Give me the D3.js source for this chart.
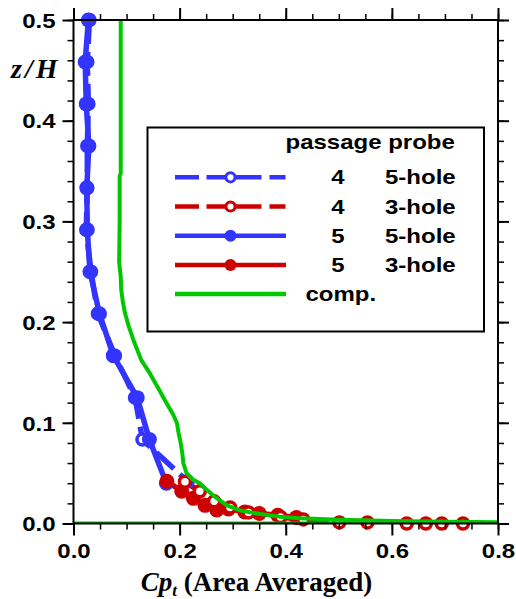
<!DOCTYPE html>
<html>
<head>
<meta charset="utf-8">
<script src="https://cdn.jsdelivr.net/npm/d3@7"></script>
<style>
  html, body { margin: 0; padding: 0; background: #fff; }
  svg { display: block; }
</style>
</head>
<body>
<svg id="chart" width="516" height="599"></svg>
<script>
// ---- tick labels ----
const xTickValues = [0.0, 0.2, 0.4, 0.6, 0.8];
const yTickValues = [0.0, 0.1, 0.2, 0.3, 0.4, 0.5];

// ---- passage 4, 5-hole probe (dashed, open symbols) ----
const p4FiveCp = [0.030, 0.026, 0.028, 0.026, 0.026, 0.024, 0.033, 0.046, 0.078, 0.116, 0.130, 0.215];
const p4FiveZ  = [0.5, 0.4583, 0.4167, 0.375, 0.3333, 0.2917, 0.25, 0.2083, 0.1667, 0.125, 0.0833, 0.0417];

// ---- passage 5, 5-hole probe (solid, filled symbols) ----
const p5FiveCp = [0.028, 0.022, 0.024, 0.029, 0.025, 0.026, 0.031, 0.049, 0.075, 0.120, 0.143, 0.175];
const p5FiveZ  = [0.5, 0.4583, 0.4167, 0.375, 0.3333, 0.2917, 0.25, 0.2083, 0.1667, 0.125, 0.0833, 0.040];

// ---- passage 4, 3-hole probe (dashed, open symbols) ----
const p4ThreeCp = [0.210, 0.238, 0.265, 0.295, 0.330, 0.390, 0.433, 0.501, 0.554, 0.628, 0.664, 0.694, 0.734];
const p4ThreeZ  = [0.0415, 0.032, 0.022, 0.016, 0.011, 0.0065, 0.004, 0.001, 0.001, 0.0, 0.0, 0.0, 0.0];

// ---- passage 5, 3-hole probe (solid, filled symbols) ----
const p5ThreeCp = [0.176, 0.204, 0.226, 0.248, 0.270, 0.292, 0.323, 0.350, 0.385, 0.420];
const p5ThreeZ  = [0.042, 0.032, 0.025, 0.018, 0.0135, 0.0145, 0.0115, 0.0100, 0.0082, 0.0060];

// ---- computation ----
const compCp = [0.089, 0.089, 0.087, 0.087, 0.086, 0.089, 0.090, 0.093, 0.097, 0.104, 0.113, 0.128, 0.144,
                0.160, 0.176, 0.188, 0.195, 0.198, 0.202, 0.205, 0.207, 0.213, 0.224, 0.238, 0.250, 0.263,
                0.276, 0.289, 0.314, 0.352, 0.389, 0.427, 0.500, 0.600, 0.700, 0.800];
const compZ  = [0.5, 0.348, 0.345, 0.30, 0.26, 0.245, 0.232, 0.22, 0.209, 0.196, 0.182, 0.162, 0.149,
                0.134, 0.119, 0.108, 0.0995, 0.09, 0.08, 0.07, 0.06, 0.05, 0.044, 0.04, 0.034, 0.028,
                0.023, 0.018, 0.013, 0.0094, 0.0068, 0.0052, 0.0038, 0.0026, 0.0018, 0.0012];
const compWallCp = [0.0, 0.8];
const compWallZ  = [0.0, 0.0];

// ---- legend rows ----
const legendPassage = ["4", "4", "5", "5"];
const legendProbe   = ["5-hole", "3-hole", "5-hole", "3-hole"];
const legendComp    = "comp.";

const BLUE = "#3434ff", RED = "#cc0000", GREEN = "#00c800";

const svg = d3.select("#chart");
const L = 73.5, R = 498, T = 20, B = 523.5;

const x = d3.scaleLinear().domain([0, 0.8]).range([L, R]);
const y = d3.scaleLinear().domain([0, 0.5]).range([B, T]);

const SANS = "'Liberation Sans', Arial, Helvetica, sans-serif";
const SERIF = "'Liberation Serif', 'Times New Roman', serif";
const STRETCH = "scale(1.2,1)";

// helper: bold, slightly widened sans label
function label(g, px, py, str, anchor) {
  return g.append("text")
    .attr("transform", `translate(${px},${py}) ${STRETCH}`)
    .attr("text-anchor", anchor || "start")
    .attr("font-family", SANS).attr("font-weight", "bold").attr("font-size", 20)
    .attr("fill", "#000")
    .text(str);
}

// clip for lines
svg.append("defs").append("clipPath").attr("id", "plotClip")
  .append("rect").attr("x", L).attr("y", T).attr("width", R - L).attr("height", B - T);

const pairs = (xs, ys) => xs.map((v, i) => [v, ys[i]]);

const series = [
  { pts: pairs(p4FiveCp, p4FiveZ),   color: BLUE, dash: "24,8", open: true },
  { pts: pairs(p5FiveCp, p5FiveZ),   color: BLUE, dash: null,   open: false },
  { pts: pairs(p5ThreeCp, p5ThreeZ), color: RED,  dash: null,   open: false },
  { pts: pairs(p4ThreeCp, p4ThreeZ), color: RED,  dash: "24,8", open: true }
];

const line = d3.line().x(d => x(d[0])).y(d => y(d[1]));
const lines = svg.append("g").attr("clip-path", "url(#plotClip)");
const marks = svg.append("g");

series.forEach(s => {
  lines.append("path").datum(s.pts)
    .attr("d", line).attr("fill", "none")
    .attr("stroke", s.color).attr("stroke-width", 5.5)
    .attr("stroke-linejoin", "round")
    .attr("stroke-dasharray", s.dash);
});

// symbols drawn per series in the same order
series.forEach(s => {
  marks.selectAll(null).data(s.pts).enter().append("circle")
    .attr("cx", d => x(d[0])).attr("cy", d => y(d[1]))
    .attr("r", s.open ? 5.5 : 7.5)
    .attr("fill", s.open ? "#fff" : s.color)
    .attr("stroke", s.open ? s.color : "none")
    .attr("stroke-width", s.open ? 3.5 : 0);
});

// computed profile on top
const compG = svg.append("g").attr("clip-path", "url(#plotClip)");
compG.append("path").datum(pairs(compCp, compZ))
  .attr("d", line).attr("fill", "none").attr("stroke", GREEN).attr("stroke-width", 4)
  .attr("stroke-linejoin", "round");
compG.append("path").datum(pairs(compWallCp, compWallZ))
  .attr("d", line).attr("fill", "none").attr("stroke", GREEN).attr("stroke-width", 4);

// ---- axes ----
function styleAxis(g, width) {
  g.select(".domain").remove();
  g.selectAll(".tick line").attr("stroke", "#000").attr("stroke-width", width);
}
const xMinor = x.ticks(16);
const yMinor = y.ticks(25);

// minor ticks on all four sides
[[d3.axisBottom(x), `translate(0,${B})`, xMinor],
 [d3.axisTop(x),    `translate(0,${T})`, xMinor],
 [d3.axisLeft(y),   `translate(${L},0)`, yMinor],
 [d3.axisRight(y),  `translate(${R},0)`, yMinor]].forEach(([ax, tr, vals]) => {
  const g = svg.append("g").attr("transform", tr)
    .call(ax.tickValues(vals).tickSize(6).tickFormat(""));
  styleAxis(g, 1.5);
});

// major ticks
const xb = svg.append("g").attr("transform", `translate(0,${B})`)
  .call(d3.axisBottom(x).tickValues(xTickValues).tickSize(12).tickFormat(d3.format(".1f")));
styleAxis(xb, 2);
xb.selectAll("text")
  .attr("y", 35).attr("dy", 0)
  .attr("transform", STRETCH)
  .attr("font-family", SANS).attr("font-weight", "bold").attr("font-size", 20).attr("fill", "#000");

const xt = svg.append("g").attr("transform", `translate(0,${T})`)
  .call(d3.axisTop(x).tickValues(xTickValues).tickSize(12).tickFormat(""));
styleAxis(xt, 2);

const yl = svg.append("g").attr("transform", `translate(${L},0)`)
  .call(d3.axisLeft(y).tickValues(yTickValues).tickSize(11).tickFormat(d3.format(".1f")));
styleAxis(yl, 2);
yl.selectAll("text")
  .attr("x", -15).attr("dy", "0.36em")
  .attr("transform", STRETCH)
  .attr("font-family", SANS).attr("font-weight", "bold").attr("font-size", 20).attr("fill", "#000");

const yr = svg.append("g").attr("transform", `translate(${R},0)`)
  .call(d3.axisRight(y).tickValues(yTickValues).tickSize(11).tickFormat(""));
styleAxis(yr, 2);

// frame
svg.append("rect").attr("x", L).attr("y", T).attr("width", R - L).attr("height", B - T)
  .attr("fill", "none").attr("stroke", "#000").attr("stroke-width", 2);

// ---- axis titles ----
const xTitle = svg.append("text")
  .attr("x", 256.5).attr("y", 591).attr("text-anchor", "middle")
  .attr("font-family", SERIF).attr("font-weight", "bold").attr("font-size", 27).attr("fill", "#000");
xTitle.append("tspan").attr("font-style", "italic").text("Cp");
xTitle.append("tspan").attr("font-style", "italic").attr("font-size", 17).attr("dy", 5).text("t");
xTitle.append("tspan").attr("dy", -5).text(" (Area Averaged)");

svg.append("text")
  .attr("x", 11).attr("y", 78)
  .attr("font-family", SERIF).attr("font-weight", "bold").attr("font-style", "italic")
  .attr("font-size", 28).attr("letter-spacing", 3).attr("fill", "#000")
  .text("z/H");

// ---- legend ----
const lg = svg.append("g");
lg.append("rect").attr("x", 147.5).attr("y", 127.5).attr("width", 336.5).attr("height", 204)
  .attr("fill", "#fff").attr("stroke", "#000").attr("stroke-width", 2);
label(lg, 285.5, 148.5, "passage probe");

const rowY = [177.3, 206.5, 235.7, 264.9, 294.1];
const legendStyles = [series[0], series[3], series[1], series[2]];
legendStyles.forEach((s, i) => {
  const ry = rowY[i];
  lg.append("line").attr("x1", 175).attr("x2", 286).attr("y1", ry).attr("y2", ry)
    .attr("stroke", s.color).attr("stroke-width", 4.5)
    .attr("stroke-dasharray", s.dash ? "24,7.5,55,8,16" : null);
  lg.append("circle").attr("cx", 230.5).attr("cy", ry)
    .attr("r", s.open ? 4.6 : 6)
    .attr("fill", s.open ? "#fff" : s.color)
    .attr("stroke", s.open ? s.color : "none")
    .attr("stroke-width", s.open ? 3 : 0);
  label(lg, 338, ry + 7, legendPassage[i], "middle");
  label(lg, 385, ry + 7, legendProbe[i]);
});
lg.append("line").attr("x1", 175).attr("x2", 286).attr("y1", rowY[4]).attr("y2", rowY[4])
  .attr("stroke", GREEN).attr("stroke-width", 4.5);
label(lg, 305.5, rowY[4] + 7, legendComp);
</script>
</body>
</html>
